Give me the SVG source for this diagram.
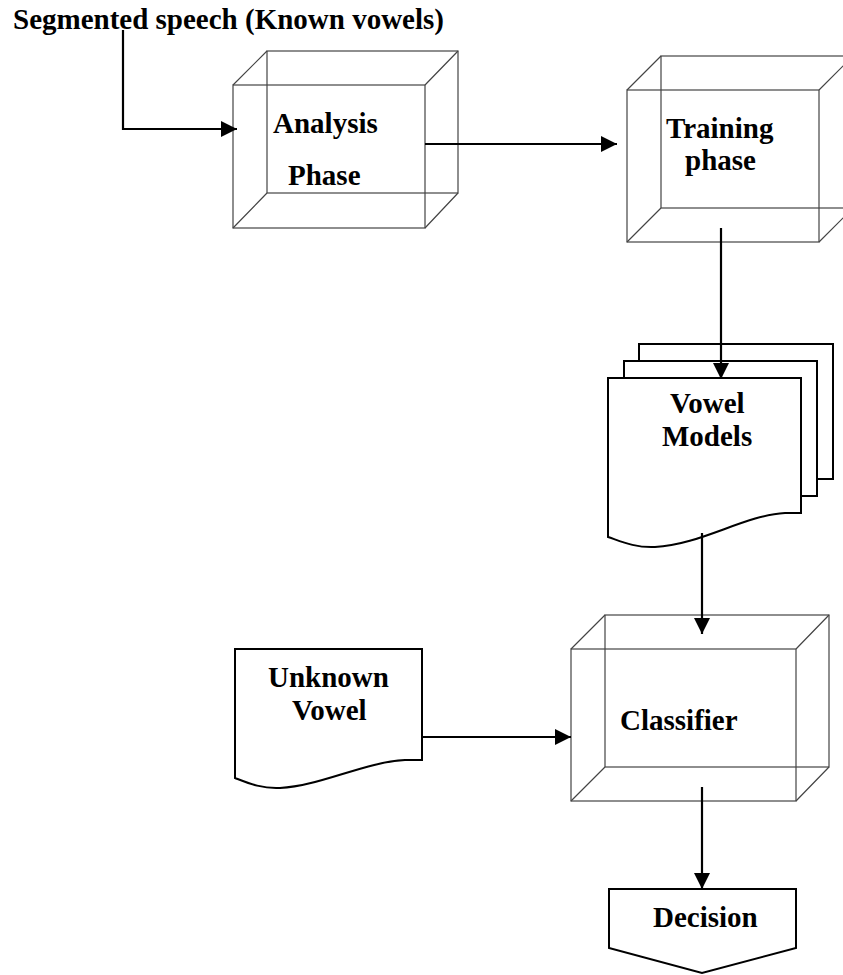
<svg xmlns="http://www.w3.org/2000/svg" width="843" height="975" viewBox="0 0 843 975">
<style>
.t{font-family:"Liberation Serif","Times New Roman",serif;font-weight:bold;font-size:29px;fill:#000}
.box{fill:none;stroke:#444;stroke-width:1.2}
.doc{fill:#fff;stroke:#000;stroke-width:2}
.ln{fill:none;stroke:#000;stroke-width:2.2}
</style>
<defs>
<marker id="ah" markerUnits="userSpaceOnUse" markerWidth="17" markerHeight="16" refX="16" refY="8" orient="auto">
<path d="M0,0 L16,8 L0,16 Z" fill="#000"/>
</marker>
</defs>
<rect width="843" height="975" fill="#fff"/>
<text id="title" class="t" x="13" y="29">Segmented speech (Known vowels)</text>
<g id="analysis">
<rect class="box" x="233" y="85" width="192" height="143"/>
<rect class="box" x="267" y="51" width="191" height="142"/>
<path class="box" d="M233,85 L267,51 M425,85 L458,51 M233,228 L267,193 M425,228 L458,193"/>
<text class="t" x="273" y="133">Analysis</text>
<text class="t" x="288" y="185">Phase</text>
</g>
<g id="training">
<rect class="box" x="627" y="90" width="192" height="152"/>
<rect class="box" x="661" y="56" width="192" height="152"/>
<path class="box" d="M627,90 L661,56 M819,90 L853,56 M627,242 L661,208 M819,242 L853,208"/>
<text class="t" x="666" y="138">Training</text>
<text class="t" x="685" y="170">phase</text>
</g>
<g id="vowel-models">
<path class="doc" d="M639,344 H833 V479 L816,479 C 776,481 731,509 686,513 C 666,514 651,507 639,503 Z"/>
<path class="doc" d="M624,361 H817 V496 L801,496 C 761,498 716,526 671,530 C 651,531 636,524 624,520 Z"/>
<path class="doc" d="M608,378 H801 V513 L785,513 C 745,515 700,545 655,547 C 635,548 620,541 608,537 Z"/>
<text class="t" x="670" y="413">Vowel</text>
<text class="t" x="662" y="446">Models</text>
</g>
<g id="unknown-vowel">
<path class="doc" d="M235,649 H422 V760 L405,760 C 365,762 320,786 280,788 C 262,789 248,783 235,778 Z"/>
<text class="t" x="268" y="687">Unknown</text>
<text class="t" x="292" y="720">Vowel</text>
</g>
<g id="classifier">
<rect class="box" x="571" y="649" width="225" height="152"/>
<rect class="box" x="605" y="615" width="224" height="152"/>
<path class="box" d="M571,649 L605,615 M796,649 L829,615 M571,801 L605,767 M796,801 L829,767"/>
<text class="t" x="620" y="730">Classifier</text>
</g>
<g id="decision">
<path class="doc" d="M609,889 H796 V948 L702,973 L609,948 Z"/>
<text class="t" x="653" y="927">Decision</text>
</g>
<g id="connectors">
<path class="ln" d="M123,30 V129 H237" marker-end="url(#ah)"/>
<path class="ln" d="M425,144 H617" marker-end="url(#ah)"/>
<path class="ln" d="M721,228 V379" marker-end="url(#ah)"/>
<path class="ln" d="M702,533 V634" marker-end="url(#ah)"/>
<path class="ln" d="M422,737 H571" marker-end="url(#ah)"/>
<path class="ln" d="M702,787 V889" marker-end="url(#ah)"/>
</g>
</svg>
